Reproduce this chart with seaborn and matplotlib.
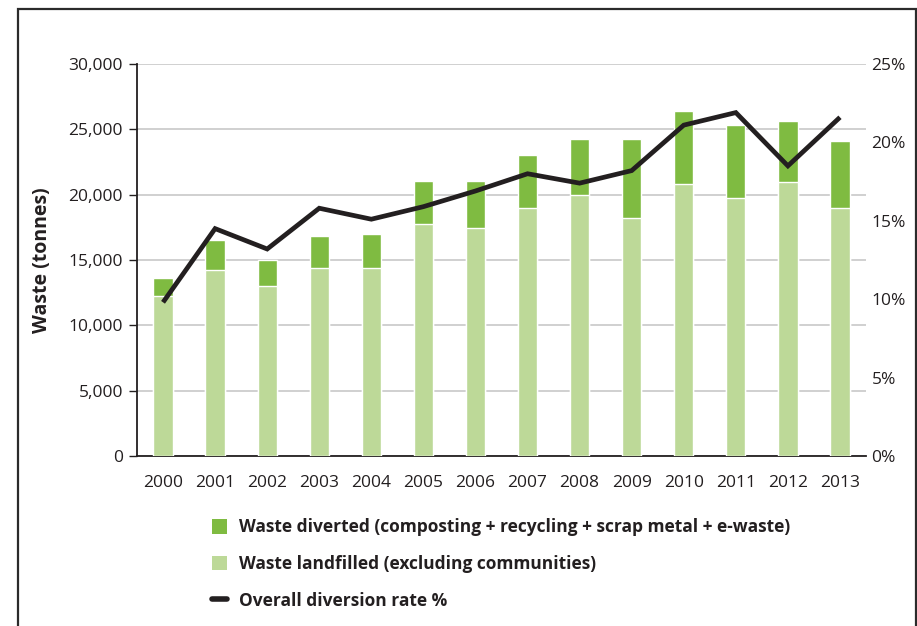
import matplotlib
matplotlib.use("Agg")
import matplotlib.pyplot as plt
import matplotlib.ticker as mticker
from matplotlib.patches import Patch, Rectangle
from matplotlib.lines import Line2D
import numpy as np
import pandas as pd
import seaborn as sns

# Annual waste figures (tonnes) and overall diversion rate (%)
years = ["2000", "2001", "2002", "2003", "2004", "2005", "2006",
         "2007", "2008", "2009", "2010", "2011", "2012", "2013"]
landfilled = [12250, 14200, 13000, 14350, 14400, 17750, 17450,
              19000, 20000, 18200, 20800, 19750, 20950, 19000]
diverted = [1400, 2350, 2000, 2500, 2600, 3300, 3600,
            4050, 4250, 6050, 5600, 5600, 4700, 5100]
diversion_rate = [9.8, 14.5, 13.2, 15.8, 15.1, 15.9, 16.9,
                  18.0, 17.4, 18.2, 21.1, 21.9, 18.5, 21.6]

left_ticks = [0, 5000, 10000, 15000, 20000, 25000, 30000]
right_ticks = [0, 5, 10, 15, 20, 25]

label_diverted = "Waste diverted (composting + recycling + scrap metal + e-waste)"
label_landfilled = "Waste landfilled (excluding communities)"
label_rate = "Overall diversion rate %"

DARK_GREEN = "#7fbb41"
LIGHT_GREEN = "#bdd998"
LINE_COLOR = "#231f20"
TEXT_COLOR = "#231f20"

df = pd.DataFrame({
    "year": years,
    "landfilled": landfilled,
    "diverted": diverted,
    "rate": diversion_rate,
})
df["total"] = df["landfilled"] + df["diverted"]

sns.set_theme(style="white")
plt.rcParams["font.family"] = ["Open Sans", "DejaVu Sans"]
plt.rcParams["text.color"] = TEXT_COLOR
plt.rcParams["axes.labelcolor"] = TEXT_COLOR
plt.rcParams["xtick.color"] = TEXT_COLOR
plt.rcParams["ytick.color"] = TEXT_COLOR

fig = plt.figure(figsize=(9.17, 6.26), dpi=100)
ax = fig.add_axes([0.1494, 0.2716, 0.7950, 0.6262])

# Stacked bars: full total in dark green, landfilled portion over it in light green
sns.barplot(data=df, x="year", y="total", color=DARK_GREEN, width=0.37,
            saturation=1, ax=ax, zorder=2)
sns.barplot(data=df, x="year", y="landfilled", color=LIGHT_GREEN, width=0.37,
            saturation=1, ax=ax, zorder=3)

ax.set_ylim(0, 30000)
ax.set_xlim(-0.5, len(years) - 0.5)
ax.set_yticks(left_ticks)
ax.yaxis.set_major_formatter(mticker.FuncFormatter(lambda v, p: f"{int(v):,}"))
ax.set_ylabel("Waste (tonnes)", fontsize=14, fontweight="bold", labelpad=12)
ax.set_xlabel("")
ax.yaxis.grid(True, color="#c8c8c8", linewidth=1.2, zorder=0)
ax.set_axisbelow(True)

for side in ["top", "right"]:
    ax.spines[side].set_visible(False)
for side in ["left", "bottom"]:
    ax.spines[side].set_color("#231f20")
    ax.spines[side].set_linewidth(1.3)

ax.tick_params(axis="y", which="major", length=6, width=1, color="#231f20",
               labelsize=12.5, pad=4, direction="out")
ax.tick_params(axis="x", which="major", length=0, labelsize=12.5, pad=14)
ax.set_xticks(np.arange(-0.5, len(years)), minor=True)
ax.tick_params(axis="x", which="minor", length=6, width=1, color="#231f20",
               direction="out")

# Diversion rate on the secondary axis
ax2 = ax.twinx()
sns.pointplot(data=df, x="year", y="rate", color=LINE_COLOR, markers="",
              linewidth=3.4, ax=ax2, errorbar=None)
ax2.set_ylim(0, 25)
ax2.set_xlim(-0.5, len(years) - 0.5)
ax2.set_yticks(right_ticks)
ax2.yaxis.set_major_formatter(mticker.FuncFormatter(lambda v, p: f"{int(v)}%"))
ax2.set_ylabel("")
ax2.tick_params(axis="y", length=0, labelsize=12.5, pad=4)
for side in ["top", "right", "left", "bottom"]:
    ax2.spines[side].set_visible(False)
ax2.grid(False)
for ln in ax2.lines:
    ln.set_solid_capstyle("butt")
    ln.set_solid_joinstyle("miter")

# Legend below the plot
handles = [
    Patch(facecolor=DARK_GREEN, edgecolor="none"),
    Patch(facecolor=LIGHT_GREEN, edgecolor="none"),
    Line2D([0], [0], color=LINE_COLOR, linewidth=4, solid_capstyle="round"),
]
fig.legend(handles, [label_diverted, label_landfilled, label_rate],
           loc="upper left", bbox_to_anchor=(0.231, 0.172), frameon=False,
           prop={"weight": "bold", "size": 12.5}, handlelength=0.9,
           handleheight=0.9, handletextpad=0.65, labelspacing=1.08,
           borderaxespad=0, borderpad=0)

# Outer frame around the figure
fig.patches.append(Rectangle((18 / 917, -0.02), (916 - 18) / 917, 1.02 - 9 / 626,
                             transform=fig.transFigure, fill=False,
                             edgecolor="#2b2b2b", linewidth=1.6))

fig.savefig("out.png", dpi=100)
